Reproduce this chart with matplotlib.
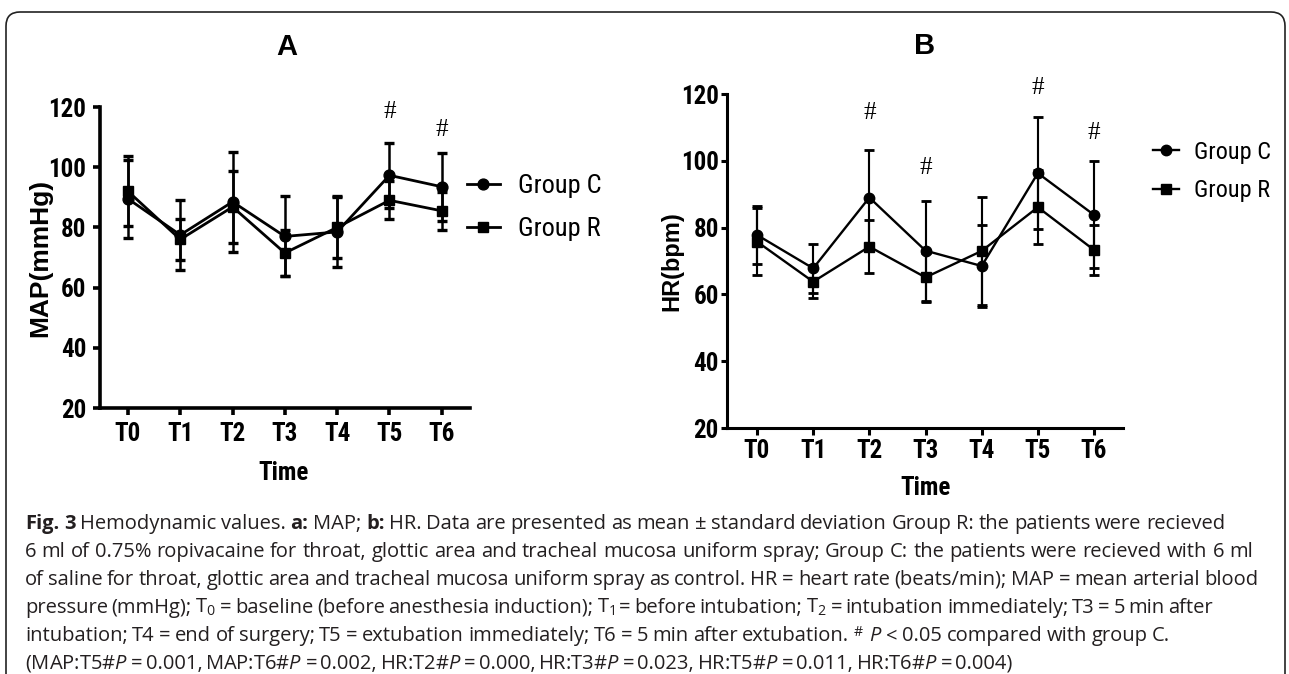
import matplotlib
matplotlib.use('Agg')
import matplotlib.pyplot as plt
from matplotlib.patches import FancyBboxPatch
from matplotlib.transforms import IdentityTransform

W, H = 1289, 674

# data (mean and SD)
times = ['T0', 'T1', 'T2', 'T3', 'T4', 'T5', 'T6']
map_c = [89.5, 77.5, 88.5, 77.0, 78.5, 97.3, 93.5]
map_c_sd = [13.0, 11.7, 16.7, 13.3, 11.8, 10.8, 11.3]
map_r = [92.0, 76.0, 86.8, 71.5, 80.0, 89.0, 85.5]
map_r_sd = [11.7, 6.7, 12.0, 7.6, 10.0, 6.3, 6.4]

hr_c = [77.8, 67.8, 89.0, 73.1, 68.5, 96.3, 83.8]
hr_c_sd = [8.7, 7.3, 14.1, 15.0, 12.3, 16.8, 16.0]
hr_r = [75.8, 63.8, 74.3, 65.1, 73.0, 86.1, 73.3]
hr_r_sd = [10.0, 5.0, 8.0, 7.3, 16.3, 11.0, 7.5]

# significance marks (time index, height)
map_hash_x = [5, 6]
map_hash_y = [118.3, 112.3]
hr_hash_x = [2, 3, 5, 6]
hr_hash_y = [114.3, 97.8, 121.8, 108.3]

# caption; words starting with ** are bold
caption_lines = [
    '**Fig. **3 Hemodynamic values. **a: MAP; **b: HR. Data are presented as mean ± standard deviation Group R: the patients were recieved',
    '6 ml of 0.75% ropivacaine for throat, glottic area and tracheal mucosa uniform spray; Group C: the patients were recieved with 6 ml',
    'of saline for throat, glottic area and tracheal mucosa uniform spray as control. HR = heart rate (beats/min); MAP = mean arterial blood',
    r'pressure (mmHg); T$_0$ = baseline (before anesthesia induction); T$_1$ = before intubation; T$_2$ = intubation immediately; T3 = 5 min after',
    r'intubation; T4 = end of surgery; T5 = extubation immediately; T6 = 5 min after extubation. $^{\#}$ $\mathit{P}$ < 0.05 compared with group C.',
    r'(MAP:T5#$\mathit{P}$ = 0.001, MAP:T6#$\mathit{P}$ = 0.002, HR:T2#$\mathit{P}$ = 0.000, HR:T3#$\mathit{P}$ = 0.023, HR:T5#$\mathit{P}$ = 0.011, HR:T6#$\mathit{P}$ = 0.004)',
]
caption_ends = [1225, 1253, 1258, 1213, 1170, 962]
caption_base = [529, 557, 585, 613, 641, 669]

NARROW = ['Roboto Condensed', 'Archivo Narrow', 'Liberation Sans']
plt.rcParams['font.family'] = NARROW
plt.rcParams['mathtext.fontset'] = 'custom'
plt.rcParams['mathtext.rm'] = 'Open Sans'
plt.rcParams['mathtext.it'] = 'Open Sans:italic'
plt.rcParams['mathtext.bf'] = 'Open Sans:bold'

fig = plt.figure(figsize=(W / 100, H / 100), dpi=100)


def panel(ax, c, c_sd, r, r_sd, xlim, ylabel, spine_w, lw, ms):
    x = list(range(len(times)))
    lc = ax.errorbar(x, c, yerr=c_sd, fmt='-o', color='black', lw=lw, ms=ms,
                     elinewidth=lw * 0.9, capsize=3.8, capthick=lw * 1.2)
    lr = ax.errorbar(x, r, yerr=r_sd, fmt='-s', color='black', lw=lw, ms=ms - 0.3,
                     elinewidth=lw * 0.9, capsize=3.8, capthick=lw * 1.2)
    ax.set_xlim(*xlim)
    ax.set_ylim(20, 120)
    ax.set_yticks([20, 40, 60, 80, 100, 120])
    ax.set_xticks(x)
    ax.set_xticklabels(times)
    for s in ['top', 'right']:
        ax.spines[s].set_visible(False)
    for s in ['left', 'bottom']:
        ax.spines[s].set_linewidth(spine_w)
    ax.tick_params(width=spine_w, length=5, labelsize=18)
    for lbl in ax.get_xticklabels() + ax.get_yticklabels():
        lbl.set_fontweight('bold')
    ax.set_ylabel(ylabel, family='Liberation Sans', fontweight='bold', va='center')
    ax.set_xlabel('Time', fontsize=18, fontweight='bold', va='baseline')
    return lc, lr


# panel A
axA = fig.add_axes([100 / W, 1 - 408 / H, 370 / W, 301 / H])
lc, lr = panel(axA, map_c, map_c_sd, map_r, map_r_sd, (-0.535, 6.54), 'MAP(mmHg)', 2.6, 2.0, 7.8)
axA.yaxis.label.set_size(19)
axA.yaxis.set_label_coords(-0.162, 0.5)
axA.xaxis.set_label_coords(0.497, -0.239)
axA.tick_params(axis='x', pad=5)
axA.tick_params(axis='y', pad=5)
for hx, hy in zip(map_hash_x, map_hash_y):
    axA.text(hx, hy, '#', ha='center', va='center', family='Liberation Serif', fontsize=18)
axA.legend([lc[0], lr[0]], ['Group C', 'Group R'], loc='center left',
           bbox_to_anchor=(467 / W, 1 - 207.5 / H), bbox_transform=fig.transFigure,
           frameon=False, fontsize=19, handlelength=1.25, handletextpad=0.68,
           labelspacing=0.72, borderpad=0, borderaxespad=0)

# panel B
axB = fig.add_axes([727 / W, 1 - 428 / H, 396 / W, 334 / H])
lc, lr = panel(axB, hr_c, hr_c_sd, hr_r, hr_r_sd, (-0.534, 6.516), 'HR(bpm)', 2.2, 1.7, 7.5)
axB.yaxis.label.set_size(17)
axB.yaxis.set_label_coords(-0.139, 0.5)
axB.xaxis.set_label_coords(0.5025, -0.2006)
axB.tick_params(axis='x', pad=3)
axB.tick_params(axis='y', pad=2, length=4)
for hx, hy in zip(hr_hash_x, hr_hash_y):
    axB.text(hx, hy, '#', ha='center', va='center', family='Liberation Serif', fontsize=18)
axB.legend([lc[0], lr[0]], ['Group C', 'Group R'], loc='center left',
           bbox_to_anchor=(1153 / W, 1 - 171.4 / H), bbox_transform=fig.transFigure,
           frameon=False, fontsize=17.5, handlelength=1.07, handletextpad=0.62,
           labelspacing=0.64, borderpad=0, borderaxespad=0)

fig.text(286.5 / W, 1 - 55 / H, 'A', ha='center', va='baseline', family='Liberation Sans',
         fontweight='bold', fontsize=21)
fig.text(925 / W, 1 - 54 / H, 'B', ha='center', va='baseline', family='Liberation Sans',
         fontweight='bold', fontsize=21)

# rounded frame round the whole figure
frame = FancyBboxPatch((6, -30), 1279, 692, boxstyle='round,pad=0,rounding_size=14',
                       transform=IdentityTransform(), fill=False, lw=1.2, ec='#222222')
fig.add_artist(frame)

# caption, each line spread to its width
renderer = fig.canvas.get_renderer()
for line, x_end, yb in zip(caption_lines, caption_ends, caption_base):
    words = line.split(' ')
    texts = []
    for w in words:
        bold = w.startswith('**')
        texts.append(fig.text(0, 1 - yb / H, w.lstrip('*'), family='Open Sans', fontsize=14.5,
                              fontweight='bold' if bold else 'normal', color='#231f20',
                              ha='left', va='baseline'))
    widths = [t.get_window_extent(renderer=renderer).width for t in texts]
    gap = max(3.0, (x_end - 25 - sum(widths)) / (len(words) - 1))
    xpos = 25
    for t, wd in zip(texts, widths):
        t.set_x(xpos / W)
        xpos += wd + gap

fig.savefig('out.png', dpi=100)
